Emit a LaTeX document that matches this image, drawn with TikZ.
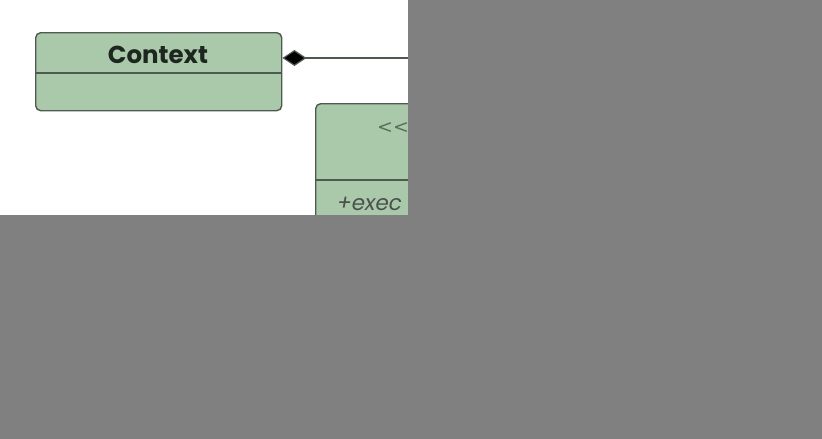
\documentclass[tikz,border=0pt]{standalone}
\usepackage{fontspec}
\setmainfont{Poppins}
\newfontfamily\djfont{DejaVu Sans}
\usetikzlibrary{arrows.meta}
\definecolor{boxfill}{HTML}{AAC8AA}
\definecolor{boxline}{HTML}{4E5A4F}
\definecolor{maskgray}{HTML}{808080}
\definecolor{txt}{HTML}{1E2620}
\begin{document}
\begin{tikzpicture}[x=1pt,y=-1pt,
  classbox/.style={draw=boxline, fill=boxfill, line width=1.4pt, rounded corners=5pt, inner sep=0pt, anchor=north west},
  divider/.style={draw=boxline, line width=1.4pt},
  titletext/.style={font=\bfseries\fontsize{24.5}{28}\selectfont, text=txt, inner sep=0pt},
  bodytext/.style={font=\fontsize{21.5}{24}\selectfont, text=txt!80!white, inner sep=0pt, anchor=west},
  assoc/.style={draw=boxline, line width=1.2pt, -{Diamond[length=24pt,width=16pt,fill=black]}}]
\useasboundingbox (0,0) rectangle (822,439);
% Context class
\node[classbox, minimum width=246pt, minimum height=78pt] (context) at (35,32) {};
\draw[divider] (35,73) -- (281,73);
\node[titletext] (ctxname) at (158,55) {Context};
% Strategy interface (partly visible)
\node[classbox, minimum width=300pt, minimum height=220pt] (strategy) at (315,103) {};
\draw[divider] (315,180) -- (615,180);
\node[bodytext, font=\djfont\fontsize{19}{22}\selectfont, text=txt!55!boxfill] (stereo) at (377,128) {<\kern0pt<};
\node[bodytext, font=\itshape\fontsize{21.5}{24}\selectfont] (exec) at (337,204) {+exec};
% association with composition diamond
\coordinate (cend) at (420,58);
\draw[assoc] (cend) -- (context.east |- cend);
% masked regions
\fill[maskgray] (408,0) rectangle (822,439);
\fill[maskgray] (0,215) rectangle (408,439);
\end{tikzpicture}
\end{document}
